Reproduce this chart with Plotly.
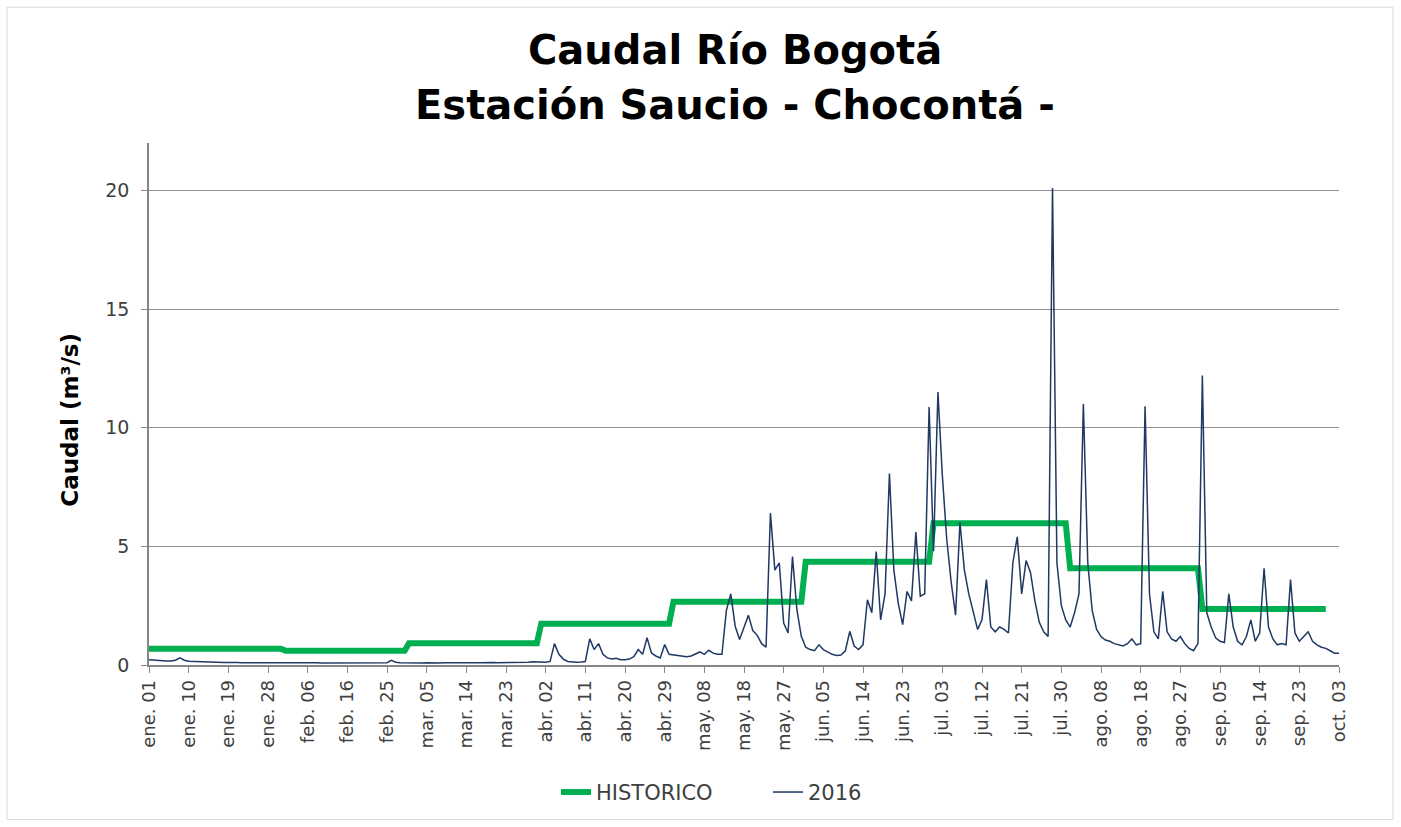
import datetime as dt
import plotly.graph_objects as go

# ---------------- data ----------------
month_abbr = ["ene.", "feb.", "mar.", "abr.", "may.", "jun.", "jul.", "ago.", "sep.", "oct."]
missing_days = ["2016-02-10", "2016-03-28", "2016-05-12", "2016-06-28", "2016-08-12", "2016-09-28"]
first_day = "2016-01-01"
last_day = "2016-10-03"

# monthly historic mean flow (Jan..Sep)
historico_mensual = [0.68, 0.6, 0.92, 1.74, 2.67, 4.35, 5.97, 4.08, 2.36]

# daily flow 2016 (m3/s), by month
q_ene = [0.22, 0.2, 0.2, 0.18, 0.17, 0.17, 0.2, 0.3, 0.2, 0.16,
         0.15, 0.14, 0.13, 0.13, 0.12, 0.12, 0.12, 0.11, 0.11, 0.12,
         0.11, 0.1, 0.1, 0.11, 0.12, 0.11, 0.1, 0.1, 0.1, 0.1, 0.1]
q_feb = [0.1, 0.09, 0.09, 0.1, 0.11, 0.1, 0.09, 0.09, 0.08, 0.08,
         0.09, 0.1, 0.11, 0.1, 0.09, 0.09, 0.08, 0.08, 0.08, 0.09,
         0.1, 0.1, 0.09, 0.1, 0.2, 0.12, 0.1, 0.09]
q_mar = [0.09, 0.08, 0.08, 0.08, 0.09, 0.08, 0.08, 0.08, 0.09, 0.1,
         0.1, 0.09, 0.09, 0.08, 0.08, 0.09, 0.1, 0.11, 0.12, 0.11,
         0.1, 0.1, 0.1, 0.1, 0.11, 0.1, 0.1, 0.12, 0.14, 0.13]
q_abr = [0.12, 0.12, 0.15, 0.9, 0.45, 0.25, 0.15, 0.12, 0.12, 0.13,
         0.15, 1.1, 0.65, 0.9, 0.45, 0.3, 0.25, 0.28, 0.22, 0.22,
         0.25, 0.35, 0.65, 0.45, 1.15, 0.5, 0.38, 0.3, 0.86, 0.45]
q_may = [0.42, 0.38, 0.36, 0.35, 0.38, 0.45, 0.55, 0.45, 0.62, 0.5,
         0.45, 0.45, 2.3, 3.0, 1.63, 1.07, 1.6, 2.1, 1.45, 1.25,
         0.9, 0.75, 6.4, 4.0, 4.3, 1.77, 1.35, 4.57, 2.33, 1.21]
q_jun = [0.75, 0.65, 0.6, 0.85, 0.65, 0.55, 0.45, 0.4, 0.42, 0.6,
         1.42, 0.8, 0.65, 0.85, 2.75, 2.2, 4.78, 1.9, 3.0, 8.07,
         4.0, 2.6, 1.7, 3.1, 2.7, 5.6, 2.9, 3.0, 10.87]
q_jul = [4.8, 11.5, 8.0, 5.3, 3.5, 2.1, 6.0, 4.0, 3.0, 2.2,
         1.5, 1.9, 3.6, 1.6, 1.4, 1.6, 1.5, 1.35, 4.3, 5.4,
         3.0, 4.4, 3.9, 2.7, 1.8, 1.4, 1.2, 20.1, 4.3, 2.5, 1.9]
q_ago = [1.6, 2.2, 3.0, 11.0, 4.3, 2.3, 1.5, 1.2, 1.05, 1.0,
         0.9, 0.85, 0.8, 0.9, 1.1, 0.85, 0.9, 10.9, 3.0, 1.4,
         1.1, 3.1, 1.4, 1.1, 1.0, 1.2, 0.9, 0.7, 0.6, 0.9]
q_sep = [12.2, 2.2, 1.6, 1.15, 1.0, 0.95, 3.0, 1.6, 1.0, 0.85,
         1.2, 1.9, 1.0, 1.35, 4.08, 1.6, 1.1, 0.85, 0.9, 0.85,
         3.6, 1.35, 1.0, 1.2, 1.4, 1.0, 0.85, 0.75, 0.7]
q_oct = [0.6, 0.5, 0.5]

caudal_2016 = q_ene + q_feb + q_mar + q_abr + q_may + q_jun + q_jul + q_ago + q_sep + q_oct

# ---------------- categories ----------------
d0 = dt.date.fromisoformat(first_day)
d1 = dt.date.fromisoformat(last_day)
skip = {dt.date.fromisoformat(s) for s in missing_days}
dates = []
d = d0
while d <= d1:
    if d not in skip:
        dates.append(d)
    d += dt.timedelta(days=1)

labels = [f"{month_abbr[x.month - 1]} {x.day:02d}" for x in dates]
idx = list(range(len(dates)))
historico = [historico_mensual[x.month - 1] if x.month <= len(historico_mensual) else None for x in dates]
y2016 = caudal_2016[:len(dates)]

tick_step = 9
tickvals = idx[::tick_step]
ticktext = [labels[i] for i in tickvals]

FONT = "DejaVu Sans"
GREY_TXT = "#404040"
AX = "#868686"

fig = go.Figure()
fig.add_trace(go.Scatter(x=idx, y=historico, mode="lines", name="HISTORICO",
                         line=dict(color="#00b050", width=6), hoverinfo="skip"))
fig.add_trace(go.Scatter(x=idx, y=y2016, mode="lines", name="2016",
                         line=dict(color="#1f3864", width=1.5)))

L, R, T, B = 149, 1339, 143, 665.5
W, H = 1401, 827
ph = B - T
pw = R - L

def px(x):
    return (x - L) / pw

def py(y):
    return (B - y) / ph

fig.update_layout(
    width=W, height=H,
    margin=dict(l=L, r=W - R, t=T, b=H - B),
    paper_bgcolor="white", plot_bgcolor="white",
    font=dict(family=FONT, color=GREY_TXT),
    showlegend=True,
    legend=dict(orientation="h", x=px(556), y=py(793), xanchor="left", yanchor="middle",
                font=dict(size=21, color=GREY_TXT), entrywidth=167, entrywidthmode="pixels",
                bgcolor="rgba(0,0,0,0)"),
    xaxis=dict(range=[0, len(dates) - 1], tickmode="array", tickvals=tickvals, ticktext=ticktext,
               tickangle=-90, ticks="outside", ticklen=6, tickcolor=AX, showline=True,
               linecolor=AX, linewidth=1.5, showgrid=False, zeroline=False,
               tickfont=dict(size=18, color=GREY_TXT, family=FONT)),
    yaxis=dict(range=[0, 22], tickmode="array", tickvals=[0, 5, 10, 15, 20],
               ticks="outside", ticklen=6, tickcolor=AX, showline=True, linecolor=AX, linewidth=1.5,
               showgrid=True, gridcolor="#8f8f8f", gridwidth=1, zeroline=False,
               tickfont=dict(size=19, color=GREY_TXT, family=FONT), ticklabelstandoff=8),
    annotations=[
        dict(text="<b>Caudal Río Bogotá</b>", xref="paper", yref="paper", x=px(735), y=py(50),
             xanchor="center", yanchor="middle", showarrow=False,
             font=dict(size=40, color="black", family=FONT)),
        dict(text="<b>Estación Saucio - Chocontá -</b>", xref="paper", yref="paper", x=px(735), y=py(105),
             xanchor="center", yanchor="middle", showarrow=False,
             font=dict(size=40, color="black", family=FONT)),
        dict(text="<b>Caudal (m³/s)</b>", xref="paper", yref="paper", x=px(70), y=py(420),
             xanchor="center", yanchor="middle", showarrow=False, textangle=-90,
             font=dict(size=23, color="black", family=FONT)),
    ],
    shapes=[
        dict(type="rect", xref="paper", yref="paper", x0=px(7), x1=px(1393), y0=py(820), y1=py(7),
             line=dict(color="#d9d9d9", width=1), fillcolor="rgba(0,0,0,0)", layer="below"),
    ],
)

fig.write_html("out.html", config={"displayModeBar": False},
               post_script="document.body.style.margin='0';document.body.style.overflow='hidden';")
